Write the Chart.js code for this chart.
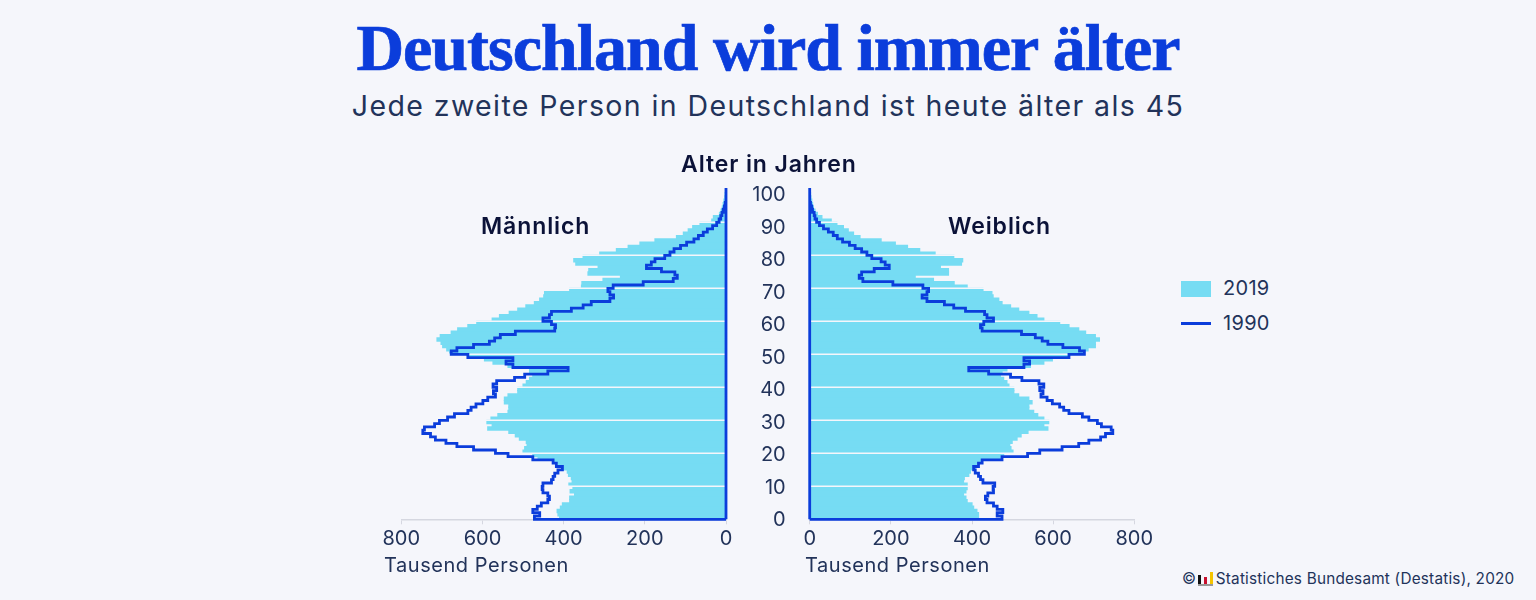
<!DOCTYPE html>
<html lang="de">
<head>
<meta charset="utf-8">
<title>Deutschland wird immer älter</title>
<script src="https://cdn.jsdelivr.net/npm/chart.js@4/dist/chart.umd.min.js"></script>
<style>
    body { margin: 0; background: #f5f6fb; }
    #page { position: relative; width: 1536px; height: 600px; overflow: hidden; font-family: Inter, sans-serif; color: #22335a; }
    #page div, #page canvas { position: absolute; white-space: nowrap; }
    #page div { z-index: 2; }
    #titel { left: 0; width: 1536px; top: 10px; text-align: center; font: bold 66px "Liberation Serif", serif; letter-spacing: -1px; -webkit-text-stroke: 0.7px #0b3ddb; color: #0b3ddb; }
    #untertitel { left: 0; width: 1536px; top: 88px; text-align: center; font-size: 28.5px; letter-spacing: 1.4px; }
    .kopf { font-size: 23px; font-weight: 600; color: #0b1238; letter-spacing: 0.9px; }
    .achse { font-size: 20px; letter-spacing: 0.55px; }
    .legende { font-size: 20px; letter-spacing: 0.3px; }
    #quelle { left: 1182px; top: 569px; font-size: 15.3px; letter-spacing: 0.22px; }
    .logo { display: inline-block; width: 15px; height: 12px; position: relative; vertical-align: -2px; margin: 0 3px 0 -3px; border-bottom: 2px solid #999; }
    .logo i { position: absolute; bottom: 0; width: 3px; }
</style>
</head>
<body>
<div id="page">
    <div id="titel">Deutschland wird immer älter</div>
    <div id="untertitel">Jede zweite Person in Deutschland ist heute älter als 45</div>
    <div class="kopf" style="left:681px;top:150px">Alter in Jahren</div>
    <div class="kopf" style="left:481px;top:212px">Männlich</div>
    <div class="kopf" style="left:948px;top:212px">Weiblich</div>
    <canvas id="chartMaennlich" width="370" height="400" style="left:380px;top:170px"></canvas>
    <canvas id="chartWeiblich" width="425" height="400" style="left:735px;top:170px"></canvas>
    <div class="achse" style="left:384px;top:553px">Tausend Personen</div>
    <div class="achse" style="left:805px;top:553px">Tausend Personen</div>
    <div style="left:1181px;top:281px;width:30px;height:16px;background:#76dcf3"></div>
    <div class="legende" style="left:1223px;top:276px">2019</div>
    <div style="left:1181px;top:322px;width:30px;height:3px;background:#0b3ddb"></div>
    <div class="legende" style="left:1223px;top:311px">1990</div>
    <div id="quelle">© <span class="logo"><i style="left:0;height:9px;background:#111"></i><i style="left:6px;height:7px;background:#c8102e"></i><i style="left:12px;height:12px;background:#f5c400"></i></span>Statistiches Bundesamt (Destatis), 2020</div>
</div>

<script>
const hintergrund = "#f5f6fb";
const farbe2019 = "#76dcf3";
const farbe1990 = "#0b3ddb";
const textFarbe = "#22335a";

const xTicks = [0, 200, 400, 600, 800];
const ageTicks = [0, 10, 20, 30, 40, 50, 60, 70, 80, 90, 100];
const gridAges = [10, 20, 30, 40, 50, 60, 70, 80, 90];

// Tausend Personen je Altersjahr (Index = Alter)
const maenner2019 = [410, 414, 416, 408, 403, 385, 385, 373, 384, 377,
    387, 379, 381, 388, 391, 402, 414, 426, 463, 476,
    500, 496, 490, 492, 509, 519, 535, 587, 576, 589,
    579, 562, 537, 535, 535, 546, 546, 537, 513, 513,
    500, 492, 484, 476, 484, 484, 537, 574, 595, 632,
    681, 688, 698, 702, 712, 704, 677, 661, 636, 614,
    576, 558, 534, 513, 493, 472, 459, 449, 447, 385,
    356, 355, 303, 260, 340, 338, 315, 370, 375, 352,
    311, 270, 241, 212, 175, 122, 105, 93, 82, 64,
    35, 31, 16, 12, 9, 7, 5, 3, 2, 1];
const frauen2019 = [416, 416, 412, 404, 400, 388, 385, 379, 385, 388,
    388, 379, 381, 392, 396, 408, 412, 425, 470, 478,
    501, 496, 493, 499, 511, 521, 538, 587, 577, 589,
    577, 562, 552, 540, 540, 548, 540, 515, 503, 503,
    491, 486, 478, 470, 474, 486, 544, 577, 598, 635,
    676, 686, 704, 704, 714, 704, 680, 663, 639, 616,
    577, 560, 540, 515, 495, 474, 466, 452, 449, 427,
    388, 356, 305, 260, 342, 342, 322, 374, 377, 355,
    309, 271, 241, 211, 176, 124, 108, 95, 83, 67,
    53, 30, 19, 13, 9, 7, 5, 3, 2, 1];
const maenner1990 = [472, 459, 476, 465, 455, 439, 435, 439, 451, 453,
    451, 430, 426, 422, 414, 403, 418, 426, 476, 537,
    568, 622, 663, 690, 716, 728, 747, 743, 718, 706,
    686, 669, 636, 628, 616, 599, 587, 568, 573, 565,
    574, 565, 521, 496, 439, 389, 525, 542, 525, 636,
    677, 663, 622, 583, 570, 556, 519, 422, 420, 430,
    451, 435, 430, 381, 352, 332, 286, 277, 286, 291,
    278, 204, 130, 120, 126, 159, 196, 184, 175, 151,
    138, 128, 112, 97, 79, 68, 56, 46, 33, 23,
    17, 13, 10, 7, 4, 2];
const frauen1990 = [474, 462, 476, 462, 453, 437, 433, 439, 453, 452,
    456, 427, 421, 416, 408, 404, 416, 425, 474, 537,
    567, 622, 663, 688, 717, 729, 747, 743, 719, 709,
    688, 672, 639, 626, 616, 598, 585, 570, 575, 567,
    577, 565, 523, 495, 441, 392, 528, 542, 528, 639,
    677, 665, 624, 587, 573, 556, 522, 425, 421, 429,
    453, 437, 431, 384, 355, 332, 289, 277, 289, 293,
    279, 205, 131, 122, 128, 159, 196, 186, 176, 153,
    141, 128, 112, 98, 81, 68, 58, 46, 34, 24,
    17, 13, 11, 7, 5, 2];

const ALTER_OBEN = 100.4;

// weisse Linien ueber den Balken, aber unter der 1990er Linie
const gridPlugin = {
    id: "gridUeberBalken",
    afterDatasetDraw(chart, args) {
        if (args.index !== 0) return;
        const ctx = chart.ctx;
        const area = chart.chartArea;
        ctx.save();
        ctx.strokeStyle = hintergrund;
        ctx.lineWidth = 1.5;
        gridAges.forEach(alter => {
            const y = chart.scales.y.getPixelForValue(alter);
            ctx.beginPath();
            ctx.moveTo(area.left, y);
            ctx.lineTo(area.right, y);
            ctx.stroke();
        });
        ctx.restore();
    }
};

function balken(werte) {
    return werte.map((wert, alter) => ({ x: wert, y: alter + 0.5 }));
}

// Umriss: von 0 entlang der Altersjahre hoch und an der Achse zurueck
function umriss(werte) {
    const punkte = [{ x: 0, y: 0 }];
    werte.forEach((wert, alter) => punkte.push({ x: wert, y: alter }));
    punkte.push({ x: 0, y: werte.length });
    punkte.push({ x: 0, y: ALTER_OBEN });
    punkte.push({ x: 0, y: 0 });
    return punkte;
}

function pyramide(canvasId, werte2019, werte1990, links) {
    const scales = {
        x: {
            type: "linear",
            min: 0,
            max: 800,
            reverse: links,
            afterBuildTicks: axis => { axis.ticks = xTicks.map(v => ({ value: v })); },
            afterFit: axis => { axis.height = 50.7; },
            grid: { drawOnChartArea: false, color: "#d5d7e0", tickLength: 5 },
            border: { color: "#d5d7e0", width: 1.5 },
            ticks: { color: textFarbe, font: { family: "Inter", size: 20 }, padding: 3, maxRotation: 0 }
        },
        y: {
            type: "linear",
            min: 0,
            max: ALTER_OBEN,
            offset: false,
            grid: { offset: false },
            display: false
        }
    };
    if (!links) {
        // Altersachse sitzt zwischen beiden Pyramiden, Beschriftung etwas enger als das Raster
        scales.alter = {
            type: "linear",
            position: "left",
            min: 0.215,
            max: 102.15,
            offset: false,
            afterBuildTicks: axis => { axis.ticks = ageTicks.map(v => ({ value: v })); },
            afterFit: axis => { axis.width = 74.7; axis.paddingTop = 0; axis.paddingBottom = 0; },
            grid: { display: false, drawTicks: false, offset: false },
            border: { display: false },
            ticks: { color: textFarbe, font: { family: "Inter", size: 20 }, align: "center", padding: 24 }
        };
    }
    return new Chart(document.getElementById(canvasId), {
        type: "bar",
        data: {
            datasets: [{
                label: "2019",
                data: balken(werte2019),
                yAxisID: "y",
                backgroundColor: farbe2019,
                borderWidth: 0,
                inflateAmount: 0.6,
                categoryPercentage: 1,
                barPercentage: 1,
                order: 2
            }, {
                type: "scatter",
                label: "1990",
                data: umriss(werte1990),
                yAxisID: "y",
                showLine: true,
                stepped: "after",
                borderColor: farbe1990,
                borderWidth: 2.8,
                borderJoinStyle: "miter",
                pointRadius: 0,
                clip: false,
                order: 1
            }]
        },
        options: {
            indexAxis: "y",
            responsive: false,
            animation: false,
            devicePixelRatio: 1,
            layout: {
                autoPadding: false,
                padding: links ? { left: 21.3, right: 24, top: 18, bottom: 0 } : { left: 0, right: 25.7, top: 18, bottom: 0 }
            },
            plugins: { legend: { display: false }, tooltip: { enabled: false } },
            scales: scales
        },
        plugins: [gridPlugin]
    });
}

pyramide("chartMaennlich", maenner2019, maenner1990, true);
pyramide("chartWeiblich", frauen2019, frauen1990, false);
</script>
</body>
</html>
